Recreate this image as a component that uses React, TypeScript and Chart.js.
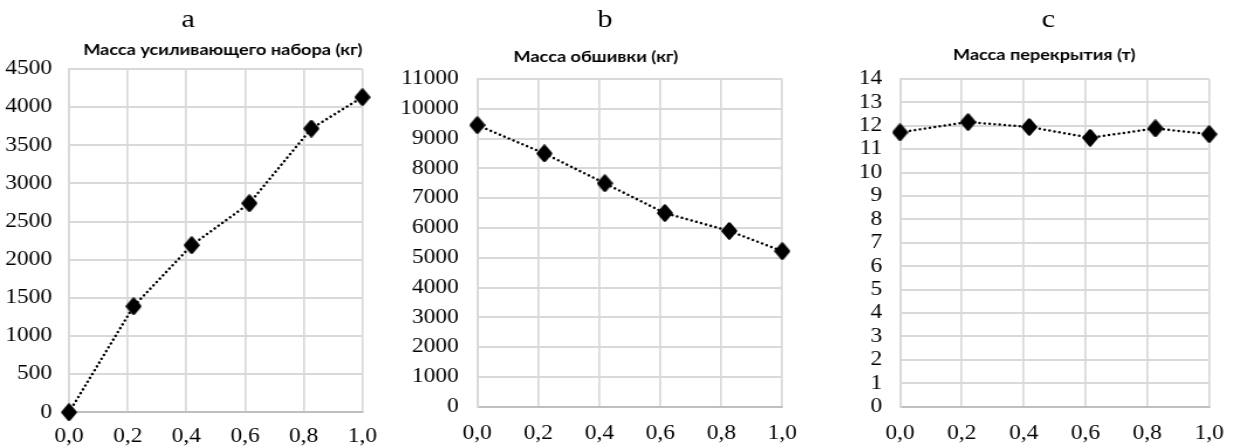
import React, { useEffect, useRef } from "react";
import { Chart, registerables } from "chart.js";

Chart.register(...registerables);

// ---------------- data ----------------
const xValues = [0, 0.22, 0.418, 0.615, 0.826, 1.0];
const reinforcementMass = [0, 1390, 2190, 2740, 3720, 4130];
const platingMass = [9450, 8500, 7500, 6500, 5900, 5220];
const floorMass = [11.72, 12.16, 11.95, 11.49, 11.89, 11.64];

const panelLetters = ["a", "b", "c"];
const panelTitles = [
  "Масса усиливающего набора (кг)",
  "Масса обшивки (кг)",
  "Масса перекрытия (т)",
];
const yAxisMax = [4500, 11000, 14];
const yAxisStep = [500, 1000, 1];
const xAxisMin = 0;
const xAxisMax = 1;
const xAxisStep = 0.2;
const seriesList = [reinforcementMass, platingMass, floorMass];

// ---------------- layout (not data) ----------------
const SX = 1.17; // the reference is stretched horizontally
const H = 446;
const layouts = [
  { left: 0, width: 355, plotLeft: 59.0, plotRight: 309.7, plotTop: 69, plotBottom: 412.3, yPad: 14.5, xPad: 12.2, letterX: 160.7, titleX: 190.4, titleBaseline: 54.8 },
  { left: 390, width: 380, plotLeft: 74.6, plotRight: 335.3, plotTop: 79, plotBottom: 406.7, yPad: 15.8, xPad: 14.8, letterX: 183.8, titleX: 175.9, titleBaseline: 61.8 },
  { left: 800, width: 377, plotLeft: 85.5, plotRight: 361.3, plotTop: 79, plotBottom: 406.7, yPad: 15.2, xPad: 14.8, letterX: 212.2, titleX: 208.7, titleBaseline: 60.2 },
];
const LETTER_BASELINE = 27;
const TICK_FONT = { family: '"Liberation Serif", "Times New Roman", serif', size: 20 };
const TITLE_FONT = 'bold 15.5px Lato, "Open Sans", sans-serif';
const LETTER_FONT = '26px "Liberation Serif", "Times New Roman", serif';

const panelTextPlugin = {
  id: "panelText",
  afterDraw(chart: any, _args: any, opts: any) {
    const ctx = chart.ctx;
    ctx.save();
    ctx.fillStyle = "#000";
    ctx.textAlign = "center";
    ctx.textBaseline = "alphabetic";
    ctx.font = LETTER_FONT;
    ctx.fillText(opts.letter, opts.letterX, opts.letterBaseline);
    ctx.font = TITLE_FONT;
    ctx.fillText(opts.title, opts.titleX, opts.titleBaseline);
    ctx.restore();
  },
};

function makeDiamond() {
  const c = document.createElement("canvas");
  c.width = 14;
  c.height = 18;
  const g = c.getContext("2d")!;
  g.fillStyle = "#000";
  g.strokeStyle = "#000";
  g.lineWidth = 2.6;
  g.lineJoin = "round";
  g.beginPath();
  g.moveTo(7, 1.5);
  g.lineTo(12.5, 9);
  g.lineTo(7, 16.5);
  g.lineTo(1.5, 9);
  g.closePath();
  g.fill();
  g.stroke();
  return c;
}

function Panel({ i }: { i: number }) {
  const ref = useRef<HTMLCanvasElement>(null);
  const L = layouts[i];
  useEffect(() => {
    const canvas = ref.current!;
    const marker = makeDiamond();
    const chart = new Chart(canvas, {
      type: "scatter",
      data: {
        datasets: [
          {
            data: xValues.map((x, k) => ({ x, y: seriesList[i][k] })),
            showLine: true,
            borderColor: "#000",
            backgroundColor: "#000",
            borderWidth: 2.5,
            borderDash: [0.01, 4.3],
            borderCapStyle: "round",
            pointStyle: marker as any,
            pointRadius: 8,
            pointHoverRadius: 8,
            clip: false as any,
          } as any,
        ],
      },
      options: {
        responsive: false,
        animation: false,
        devicePixelRatio: 1,
        events: [],
        layout: {
          padding: { left: 0, top: L.plotTop, right: L.width - L.plotRight, bottom: 0 },
        },
        plugins: {
          legend: { display: false },
          tooltip: { enabled: false },
          panelText: {
            letter: panelLetters[i],
            title: panelTitles[i],
            letterX: L.letterX,
            letterBaseline: LETTER_BASELINE,
            titleX: L.titleX,
            titleBaseline: L.titleBaseline,
          },
        } as any,
        scales: {
          x: {
            type: "linear",
            min: xAxisMin,
            max: xAxisMax,
            ticks: {
              stepSize: xAxisStep,
              autoSkip: false,
              maxRotation: 0,
              color: "#000",
              font: TICK_FONT,
              padding: L.xPad,
              callback: (v: any) => Number(v).toFixed(1).replace(".", ","),
            },
            grid: { color: "#d9d9d9", lineWidth: 1.7, drawTicks: false },
            border: { color: "#bfbfbf", width: 2 },
            afterFit: (s: any) => {
              s.height = H - L.plotBottom;
            },
          },
          y: {
            type: "linear",
            min: 0,
            max: yAxisMax[i],
            ticks: {
              stepSize: yAxisStep[i],
              autoSkip: false,
              color: "#000",
              font: TICK_FONT,
              padding: L.yPad,
              callback: (v: any) => String(v),
            },
            grid: { color: "#d9d9d9", lineWidth: 2, drawTicks: false },
            border: { color: "#d9d9d9", width: 2 },
            afterFit: (s: any) => {
              s.width = L.plotLeft;
            },
          },
        },
      } as any,
      plugins: [panelTextPlugin],
    });
    return () => chart.destroy();
  }, []);
  return (
    <div
      style={{
        position: "absolute",
        left: L.left,
        top: 0,
        width: L.width,
        height: H,
        transform: `scaleX(${SX})`,
        transformOrigin: "0 0",
      }}
    >
      <canvas ref={ref} width={L.width} height={H} style={{ display: "block" }} />
    </div>
  );
}

export default function App() {
  return (
    <div style={{ position: "absolute", left: 0, top: 0, width: 1242, height: H, overflow: "hidden", background: "#fff" }}>
      {[0, 1, 2].map((i) => (
        <Panel key={i} i={i} />
      ))}
    </div>
  );
}
